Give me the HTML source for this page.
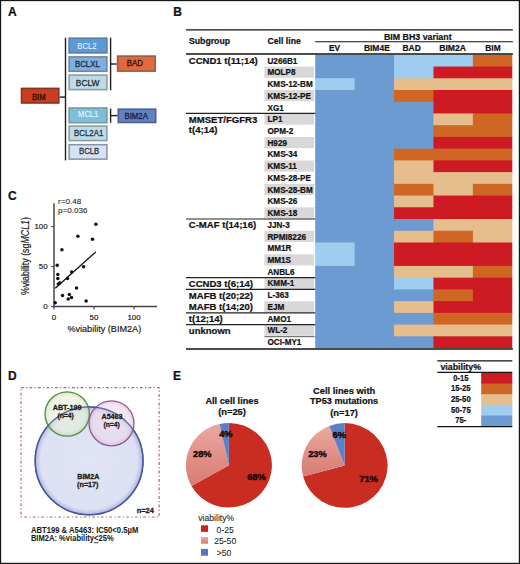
<!DOCTYPE html>
<html><head><meta charset="utf-8"><style>
html,body{margin:0;padding:0;background:#fff;}
body{width:520px;height:564px;overflow:hidden;position:relative;}
svg{position:absolute;left:0;top:0;font-family:"Liberation Sans", sans-serif;}
</style></head><body>
<svg width="520" height="564" viewBox="0 0 520 564">
<text x="7.9" y="15.8" font-size="12" font-weight="bold" text-anchor="start" fill="#111"  stroke="#111" stroke-width="0.22">A</text>
<text x="173.2" y="15.8" font-size="12" font-weight="bold" text-anchor="start" fill="#111"  stroke="#111" stroke-width="0.22">B</text>
<text x="8.0" y="200.4" font-size="12" font-weight="bold" text-anchor="start" fill="#111"  stroke="#111" stroke-width="0.22">C</text>
<text x="7.9" y="379.7" font-size="12" font-weight="bold" text-anchor="start" fill="#111"  stroke="#111" stroke-width="0.22">D</text>
<text x="173.0" y="379.9" font-size="12" font-weight="bold" text-anchor="start" fill="#111"  stroke="#111" stroke-width="0.22">E</text>
<rect x="69.1" y="38.2" width="37.8" height="14.7" fill="#5b9ad6" stroke="#5d7ea8" stroke-width="1.6" />
<text x="77.3" y="49.3" font-size="8.6" font-weight="normal" text-anchor="start" fill="#eef6ff"  textLength="19.3" lengthAdjust="spacingAndGlyphs" stroke="#eef6ff" stroke-width="0.05">BCL2</text>
<rect x="69.1" y="56.9" width="37.8" height="14.4" fill="#82ade0" stroke="#70869e" stroke-width="1.6" />
<text x="74.9" y="66.7" font-size="8.6" font-weight="normal" text-anchor="start" fill="#1a2e4c"  textLength="25.0" lengthAdjust="spacingAndGlyphs" stroke="#1a2e4c" stroke-width="0.3">BCLXL</text>
<rect x="69.1" y="75.1" width="37.8" height="14.5" fill="#bfdce6" stroke="#8a9ea8" stroke-width="1.6" />
<text x="75.8" y="85.6" font-size="8.6" font-weight="normal" text-anchor="start" fill="#1e2e36"  textLength="23.6" lengthAdjust="spacingAndGlyphs" stroke="#1e2e36" stroke-width="0.3">BCLW</text>
<rect x="69.1" y="108.0" width="37.8" height="14.7" fill="#7dbfd8" stroke="#7a98a8" stroke-width="1.6" />
<text x="78.1" y="117.2" font-size="8.6" font-weight="normal" text-anchor="start" fill="#f2fbff"  textLength="20.2" lengthAdjust="spacingAndGlyphs" stroke="#f2fbff" stroke-width="0.05">MCL1</text>
<rect x="69.1" y="126.1" width="37.8" height="14.5" fill="#bddcea" stroke="#8a9ea8" stroke-width="1.6" />
<text x="74.1" y="135.9" font-size="8.6" font-weight="normal" text-anchor="start" fill="#24343c"  textLength="29.2" lengthAdjust="spacingAndGlyphs" stroke="#24343c" stroke-width="0.3">BCL2A1</text>
<rect x="69.1" y="144.7" width="37.8" height="14.4" fill="#d6e2f4" stroke="#8a96a8" stroke-width="1.6" />
<text x="79.0" y="153.7" font-size="8.6" font-weight="normal" text-anchor="start" fill="#24343c"  textLength="20.3" lengthAdjust="spacingAndGlyphs" stroke="#24343c" stroke-width="0.3">BCLB</text>
<rect x="21.5" y="88.4" width="37.3" height="14.6" fill="#c93d20" stroke="#8a3420" stroke-width="1.6" />
<text x="31.9" y="99.7" font-size="8.6" font-weight="normal" text-anchor="start" fill="#380800"  textLength="13.8" lengthAdjust="spacingAndGlyphs" stroke="#380800" stroke-width="0.3">BIM</text>
<rect x="117.6" y="56.1" width="37.6" height="15.0" fill="#e0693d" stroke="#9a5a40" stroke-width="1.6" />
<text x="126.8" y="66.3" font-size="8.6" font-weight="normal" text-anchor="start" fill="#301008"  textLength="16.0" lengthAdjust="spacingAndGlyphs" stroke="#301008" stroke-width="0.3">BAD</text>
<rect x="118.3" y="109.2" width="37.4" height="13.3" fill="#6382c4" stroke="#4a5f8a" stroke-width="1.6" />
<text x="124.5" y="119.0" font-size="8.6" font-weight="normal" text-anchor="start" fill="#14204a"  textLength="23.4" lengthAdjust="spacingAndGlyphs" stroke="#14204a" stroke-width="0.3">BIM2A</text>
<line x1="65.5" y1="37.7" x2="65.5" y2="160.4" stroke="#1e1e1e" stroke-width="1.4" />
<line x1="110.6" y1="37.7" x2="110.6" y2="90.2" stroke="#1e1e1e" stroke-width="1.4" />
<line x1="110.6" y1="108.6" x2="110.6" y2="122.8" stroke="#1e1e1e" stroke-width="1.4" />
<line x1="59.6" y1="97.1" x2="65.5" y2="97.1" stroke="#1e1e1e" stroke-width="1.4" />
<line x1="110.6" y1="64" x2="116.7" y2="64" stroke="#1e1e1e" stroke-width="1.4" />
<line x1="110.6" y1="115.6" x2="117.5" y2="115.6" stroke="#1e1e1e" stroke-width="1.4" />
<text transform="translate(267.5,63.60) scale(0.9157,1)" font-size="8.9" font-weight="bold" fill="#111" stroke="#111" stroke-width="0.22">U266B1</text>
<rect x="315.2" y="54.8" width="79.64" height="12.53" fill="#6c9bd2" />
<rect x="394.04" y="54.8" width="79.64" height="12.53" fill="#9ecdf0" />
<rect x="472.88" y="54.8" width="39.42" height="12.53" fill="#d06623" />
<rect x="264.4" y="66.63" width="49.8" height="11.13" fill="#d8d8d8" />
<text transform="translate(267.5,75.33) scale(0.9157,1)" font-size="8.9" font-weight="bold" fill="#111" stroke="#111" stroke-width="0.22">MOLP8</text>
<rect x="315.2" y="66.53" width="79.64" height="12.53" fill="#6c9bd2" />
<rect x="394.04" y="66.53" width="40.22" height="12.53" fill="#9ecdf0" />
<rect x="433.46" y="66.53" width="78.84" height="12.53" fill="#cd1a23" />
<text transform="translate(267.5,87.06) scale(0.9157,1)" font-size="8.9" font-weight="bold" fill="#111" stroke="#111" stroke-width="0.22">KMS-12-BM</text>
<rect x="315.2" y="78.26" width="40.22" height="12.53" fill="#9ecdf0" />
<rect x="354.62" y="78.26" width="40.22" height="12.53" fill="#6c9bd2" />
<rect x="394.04" y="78.26" width="118.26" height="12.53" fill="#e6be8e" />
<rect x="264.4" y="90.09" width="49.8" height="11.13" fill="#d8d8d8" />
<text transform="translate(267.5,98.79) scale(0.9157,1)" font-size="8.9" font-weight="bold" fill="#111" stroke="#111" stroke-width="0.22">KMS-12-PE</text>
<rect x="315.2" y="89.99" width="79.64" height="12.53" fill="#6c9bd2" />
<rect x="394.04" y="89.99" width="40.22" height="12.53" fill="#d06623" />
<rect x="433.46" y="89.99" width="78.84" height="12.53" fill="#cd1a23" />
<text transform="translate(267.5,110.52) scale(0.9157,1)" font-size="8.9" font-weight="bold" fill="#111" stroke="#111" stroke-width="0.22">XG1</text>
<rect x="315.2" y="101.72" width="119.06" height="12.53" fill="#6c9bd2" />
<rect x="433.46" y="101.72" width="78.84" height="12.53" fill="#cd1a23" />
<rect x="264.4" y="113.55" width="49.8" height="11.13" fill="#d8d8d8" />
<text transform="translate(267.5,122.25) scale(0.9157,1)" font-size="8.9" font-weight="bold" fill="#111" stroke="#111" stroke-width="0.22">LP1</text>
<rect x="315.2" y="113.45" width="119.06" height="12.53" fill="#6c9bd2" />
<rect x="433.46" y="113.45" width="40.22" height="12.53" fill="#e6be8e" />
<rect x="472.88" y="113.45" width="39.42" height="12.53" fill="#d06623" />
<text transform="translate(267.5,133.98) scale(0.9157,1)" font-size="8.9" font-weight="bold" fill="#111" stroke="#111" stroke-width="0.22">OPM-2</text>
<rect x="315.2" y="125.18" width="119.06" height="12.53" fill="#6c9bd2" />
<rect x="433.46" y="125.18" width="78.84" height="12.53" fill="#d06623" />
<rect x="264.4" y="137.01" width="49.8" height="11.13" fill="#d8d8d8" />
<text transform="translate(267.5,145.71) scale(0.9157,1)" font-size="8.9" font-weight="bold" fill="#111" stroke="#111" stroke-width="0.22">H929</text>
<rect x="315.2" y="136.91" width="119.06" height="12.53" fill="#6c9bd2" />
<rect x="433.46" y="136.91" width="78.84" height="12.53" fill="#cd1a23" />
<text transform="translate(267.5,157.44) scale(0.9157,1)" font-size="8.9" font-weight="bold" fill="#111" stroke="#111" stroke-width="0.22">KMS-34</text>
<rect x="315.2" y="148.64" width="79.64" height="12.53" fill="#6c9bd2" />
<rect x="394.04" y="148.64" width="118.26" height="12.53" fill="#d06623" />
<rect x="264.4" y="160.47" width="49.8" height="11.13" fill="#d8d8d8" />
<text transform="translate(267.5,169.17) scale(0.9157,1)" font-size="8.9" font-weight="bold" fill="#111" stroke="#111" stroke-width="0.22">KMS-11</text>
<rect x="315.2" y="160.37" width="79.64" height="12.53" fill="#6c9bd2" />
<rect x="394.04" y="160.37" width="40.22" height="12.53" fill="#e6be8e" />
<rect x="433.46" y="160.37" width="78.84" height="12.53" fill="#cd1a23" />
<text transform="translate(267.5,180.90) scale(0.9157,1)" font-size="8.9" font-weight="bold" fill="#111" stroke="#111" stroke-width="0.22">KMS-28-PE</text>
<rect x="315.2" y="172.1" width="79.64" height="12.53" fill="#6c9bd2" />
<rect x="394.04" y="172.1" width="118.26" height="12.53" fill="#e6be8e" />
<rect x="264.4" y="183.93" width="49.8" height="11.13" fill="#d8d8d8" />
<text transform="translate(267.5,192.63) scale(0.9157,1)" font-size="8.9" font-weight="bold" fill="#111" stroke="#111" stroke-width="0.22">KMS-28-BM</text>
<rect x="315.2" y="183.83" width="79.64" height="12.53" fill="#6c9bd2" />
<rect x="394.04" y="183.83" width="40.22" height="12.53" fill="#d06623" />
<rect x="433.46" y="183.83" width="40.22" height="12.53" fill="#e6be8e" />
<rect x="472.88" y="183.83" width="39.42" height="12.53" fill="#d06623" />
<text transform="translate(267.5,204.36) scale(0.9157,1)" font-size="8.9" font-weight="bold" fill="#111" stroke="#111" stroke-width="0.22">KMS-26</text>
<rect x="315.2" y="195.56" width="79.64" height="12.53" fill="#6c9bd2" />
<rect x="394.04" y="195.56" width="40.22" height="12.53" fill="#e6be8e" />
<rect x="433.46" y="195.56" width="78.84" height="12.53" fill="#cd1a23" />
<rect x="264.4" y="207.39" width="49.8" height="11.13" fill="#d8d8d8" />
<text transform="translate(267.5,216.09) scale(0.9157,1)" font-size="8.9" font-weight="bold" fill="#111" stroke="#111" stroke-width="0.22">KMS-18</text>
<rect x="315.2" y="207.29" width="79.64" height="12.53" fill="#6c9bd2" />
<rect x="394.04" y="207.29" width="118.26" height="12.53" fill="#cd1a23" />
<text transform="translate(267.5,227.82) scale(0.9157,1)" font-size="8.9" font-weight="bold" fill="#111" stroke="#111" stroke-width="0.22">JJN-3</text>
<rect x="315.2" y="219.02" width="119.06" height="12.53" fill="#6c9bd2" />
<rect x="433.46" y="219.02" width="78.84" height="12.53" fill="#e6be8e" />
<rect x="264.4" y="230.85" width="49.8" height="11.13" fill="#d8d8d8" />
<text transform="translate(267.5,239.55) scale(0.9157,1)" font-size="8.9" font-weight="bold" fill="#111" stroke="#111" stroke-width="0.22">RPMI8226</text>
<rect x="315.2" y="230.75" width="79.64" height="12.53" fill="#6c9bd2" />
<rect x="394.04" y="230.75" width="40.22" height="12.53" fill="#e6be8e" />
<rect x="433.46" y="230.75" width="40.22" height="12.53" fill="#d06623" />
<rect x="472.88" y="230.75" width="39.42" height="12.53" fill="#e6be8e" />
<text transform="translate(267.5,251.28) scale(0.9157,1)" font-size="8.9" font-weight="bold" fill="#111" stroke="#111" stroke-width="0.22">MM1R</text>
<rect x="315.2" y="242.48" width="40.22" height="12.53" fill="#9ecdf0" />
<rect x="354.62" y="242.48" width="40.22" height="12.53" fill="#6c9bd2" />
<rect x="394.04" y="242.48" width="118.26" height="12.53" fill="#cd1a23" />
<rect x="264.4" y="254.31" width="49.8" height="11.13" fill="#d8d8d8" />
<text transform="translate(267.5,263.01) scale(0.9157,1)" font-size="8.9" font-weight="bold" fill="#111" stroke="#111" stroke-width="0.22">MM1S</text>
<rect x="315.2" y="254.21" width="40.22" height="12.53" fill="#9ecdf0" />
<rect x="354.62" y="254.21" width="40.22" height="12.53" fill="#6c9bd2" />
<rect x="394.04" y="254.21" width="118.26" height="12.53" fill="#cd1a23" />
<text transform="translate(267.5,274.74) scale(0.9157,1)" font-size="8.9" font-weight="bold" fill="#111" stroke="#111" stroke-width="0.22">ANBL6</text>
<rect x="315.2" y="265.94" width="79.64" height="12.53" fill="#6c9bd2" />
<rect x="394.04" y="265.94" width="79.64" height="12.53" fill="#e6be8e" />
<rect x="472.88" y="265.94" width="39.42" height="12.53" fill="#d06623" />
<rect x="264.4" y="277.77" width="49.8" height="11.13" fill="#d8d8d8" />
<text transform="translate(267.5,286.47) scale(0.9157,1)" font-size="8.9" font-weight="bold" fill="#111" stroke="#111" stroke-width="0.22">KMM-1</text>
<rect x="315.2" y="277.67" width="79.64" height="12.53" fill="#6c9bd2" />
<rect x="394.04" y="277.67" width="40.22" height="12.53" fill="#9ecdf0" />
<rect x="433.46" y="277.67" width="78.84" height="12.53" fill="#cd1a23" />
<text transform="translate(267.5,298.20) scale(0.9157,1)" font-size="8.9" font-weight="bold" fill="#111" stroke="#111" stroke-width="0.22">L-363</text>
<rect x="315.2" y="289.4" width="119.06" height="12.53" fill="#6c9bd2" />
<rect x="433.46" y="289.4" width="40.22" height="12.53" fill="#d06623" />
<rect x="472.88" y="289.4" width="39.42" height="12.53" fill="#cd1a23" />
<rect x="264.4" y="301.23" width="49.8" height="11.13" fill="#d8d8d8" />
<text transform="translate(267.5,309.93) scale(0.9157,1)" font-size="8.9" font-weight="bold" fill="#111" stroke="#111" stroke-width="0.22">EJM</text>
<rect x="315.2" y="301.13" width="79.64" height="12.53" fill="#6c9bd2" />
<rect x="394.04" y="301.13" width="40.22" height="12.53" fill="#e6be8e" />
<rect x="433.46" y="301.13" width="78.84" height="12.53" fill="#cd1a23" />
<text transform="translate(267.5,321.66) scale(0.9157,1)" font-size="8.9" font-weight="bold" fill="#111" stroke="#111" stroke-width="0.22">AMO1</text>
<rect x="315.2" y="312.86" width="119.06" height="12.53" fill="#6c9bd2" />
<rect x="433.46" y="312.86" width="78.84" height="12.53" fill="#d06623" />
<rect x="264.4" y="324.69" width="49.8" height="11.13" fill="#d8d8d8" />
<text transform="translate(267.5,333.39) scale(0.9157,1)" font-size="8.9" font-weight="bold" fill="#111" stroke="#111" stroke-width="0.22">WL-2</text>
<rect x="315.2" y="324.59" width="79.64" height="12.53" fill="#6c9bd2" />
<rect x="394.04" y="324.59" width="118.26" height="12.53" fill="#e6be8e" />
<text transform="translate(267.5,345.12) scale(0.9157,1)" font-size="8.9" font-weight="bold" fill="#111" stroke="#111" stroke-width="0.22">OCI-MY1</text>
<rect x="315.2" y="336.32" width="119.06" height="11.73" fill="#6c9bd2" />
<rect x="433.46" y="336.32" width="78.84" height="11.73" fill="#cd1a23" />
<line x1="186" y1="29.9" x2="512.9" y2="29.9" stroke="#111" stroke-width="1.3" />
<line x1="315.2" y1="41.7" x2="512.9" y2="41.7" stroke="#111" stroke-width="1.1" />
<line x1="186" y1="54.1" x2="512.9" y2="54.1" stroke="#111" stroke-width="1.5" />
<line x1="186" y1="348.9" x2="512.9" y2="348.9" stroke="#111" stroke-width="1.5" />
<line x1="264.4" y1="336.7" x2="314.6" y2="336.7" stroke="#444" stroke-width="0.9" />
<line x1="186" y1="113.45" x2="315.2" y2="113.45" stroke="#222" stroke-width="1.2" />
<line x1="186" y1="219.02" x2="315.2" y2="219.02" stroke="#222" stroke-width="1.2" />
<line x1="186" y1="277.67" x2="315.2" y2="277.67" stroke="#222" stroke-width="1.2" />
<line x1="186" y1="289.4" x2="315.2" y2="289.4" stroke="#222" stroke-width="1.2" />
<line x1="186" y1="312.86" x2="315.2" y2="312.86" stroke="#222" stroke-width="1.2" />
<line x1="186" y1="324.59" x2="315.2" y2="324.59" stroke="#222" stroke-width="1.2" />
<text x="189" y="44.2" font-size="9.2" font-weight="bold" text-anchor="start" fill="#111"  textLength="41.0" lengthAdjust="spacingAndGlyphs" stroke="#111" stroke-width="0.22">Subgroup</text>
<text x="267.5" y="44.2" font-size="9.2" font-weight="bold" text-anchor="start" fill="#111"  textLength="33.3" lengthAdjust="spacingAndGlyphs" stroke="#111" stroke-width="0.22">Cell line</text>
<text x="384.0" y="39.5" font-size="9.1" font-weight="bold" text-anchor="start" fill="#111"  textLength="67.6" lengthAdjust="spacingAndGlyphs" stroke="#111" stroke-width="0.22">BIM BH3 variant</text>
<text x="328.9" y="51.1" font-size="9.0" font-weight="bold" text-anchor="start" fill="#111"  textLength="11.1" lengthAdjust="spacingAndGlyphs" stroke="#111" stroke-width="0.22">EV</text>
<text x="363.9" y="51.1" font-size="9.0" font-weight="bold" text-anchor="start" fill="#111"  textLength="25.9" lengthAdjust="spacingAndGlyphs" stroke="#111" stroke-width="0.22">BIM4E</text>
<text x="402.4" y="51.1" font-size="9.0" font-weight="bold" text-anchor="start" fill="#111"  textLength="18.4" lengthAdjust="spacingAndGlyphs" stroke="#111" stroke-width="0.22">BAD</text>
<text x="439.2" y="51.1" font-size="9.0" font-weight="bold" text-anchor="start" fill="#111"  textLength="26.8" lengthAdjust="spacingAndGlyphs" stroke="#111" stroke-width="0.22">BIM2A</text>
<text x="485.3" y="51.1" font-size="9.0" font-weight="bold" text-anchor="start" fill="#111"  textLength="15.3" lengthAdjust="spacingAndGlyphs" stroke="#111" stroke-width="0.22">BIM</text>
<text x="188.8" y="64.1" font-size="9.55" font-weight="bold" text-anchor="start" fill="#111"  stroke="#111" stroke-width="0.22">CCND1 t(11;14)</text>
<text x="188.8" y="122.75" font-size="9.55" font-weight="bold" text-anchor="start" fill="#111"  stroke="#111" stroke-width="0.22">MMSET/FGFR3</text>
<text x="188.8" y="133.48" font-size="9.55" font-weight="bold" text-anchor="start" fill="#111"  stroke="#111" stroke-width="0.22">t(4;14)</text>
<text x="188.8" y="228.32" font-size="9.55" font-weight="bold" text-anchor="start" fill="#111"  stroke="#111" stroke-width="0.22">C-MAF t(14;16)</text>
<text x="188.8" y="286.97" font-size="9.55" font-weight="bold" text-anchor="start" fill="#111"  stroke="#111" stroke-width="0.22">CCND3 t(6;14)</text>
<text x="188.8" y="298.7" font-size="9.55" font-weight="bold" text-anchor="start" fill="#111"  stroke="#111" stroke-width="0.22">MAFB t(20;22)</text>
<text x="188.8" y="310.43" font-size="9.55" font-weight="bold" text-anchor="start" fill="#111"  stroke="#111" stroke-width="0.22">MAFB t(14;20)</text>
<text x="188.8" y="322.16" font-size="9.55" font-weight="bold" text-anchor="start" fill="#111"  stroke="#111" stroke-width="0.22">t(12;14)</text>
<text x="188.8" y="333.89" font-size="9.55" font-weight="bold" text-anchor="start" fill="#111"  stroke="#111" stroke-width="0.22">unknown</text>
<line x1="437.3" y1="360.8" x2="512.3" y2="360.8" stroke="#111" stroke-width="1.3" />
<text x="440.4" y="369.5" font-size="9.4" font-weight="bold" text-anchor="start" fill="#111"  textLength="40.6" lengthAdjust="spacingAndGlyphs" stroke="#111" stroke-width="0.22">viability%</text>
<line x1="437.3" y1="372.3" x2="512.3" y2="372.3" stroke="#111" stroke-width="1.3" />
<rect x="481.2" y="372.9" width="31.1" height="11.25" fill="#cd1a23" />
<text x="460.8" y="380.8" font-size="8.8" font-weight="bold" text-anchor="middle" fill="#111"  textLength="15.2" lengthAdjust="spacingAndGlyphs" stroke="#111" stroke-width="0.22">0-15</text>
<rect x="481.2" y="383.55" width="31.1" height="11.25" fill="#d06623" />
<text x="460.8" y="391.45" font-size="8.8" font-weight="bold" text-anchor="middle" fill="#111"  textLength="19.4" lengthAdjust="spacingAndGlyphs" stroke="#111" stroke-width="0.22">15-25</text>
<rect x="481.2" y="394.2" width="31.1" height="11.25" fill="#e6be8e" />
<text x="460.8" y="402.1" font-size="8.8" font-weight="bold" text-anchor="middle" fill="#111"  textLength="19.8" lengthAdjust="spacingAndGlyphs" stroke="#111" stroke-width="0.22">25-50</text>
<rect x="481.2" y="404.85" width="31.1" height="11.25" fill="#9ecdf0" />
<text x="460.8" y="412.75" font-size="8.8" font-weight="bold" text-anchor="middle" fill="#111"  textLength="19.8" lengthAdjust="spacingAndGlyphs" stroke="#111" stroke-width="0.22">50-75</text>
<rect x="481.2" y="415.5" width="31.1" height="10.7" fill="#6c9bd2" />
<text x="460.8" y="423.4" font-size="8.8" font-weight="bold" text-anchor="middle" fill="#111"  textLength="11.0" lengthAdjust="spacingAndGlyphs" stroke="#111" stroke-width="0.22">75-</text>
<line x1="437.3" y1="426.6" x2="512.3" y2="426.6" stroke="#111" stroke-width="1.3" />
<line x1="54" y1="203.2" x2="54" y2="307.2" stroke="#444" stroke-width="1.5" />
<line x1="53.3" y1="306.6" x2="157" y2="306.6" stroke="#444" stroke-width="1.5" />
<line x1="51.2" y1="306.6" x2="54" y2="306.6" stroke="#444" stroke-width="1.1" />
<text x="47.6" y="309.3" font-size="7.9" font-weight="normal" text-anchor="end" fill="#111"  stroke="#111" stroke-width="0.15">0</text>
<line x1="51.2" y1="266.6" x2="54" y2="266.6" stroke="#444" stroke-width="1.1" />
<text x="47.6" y="269.3" font-size="7.9" font-weight="normal" text-anchor="end" fill="#111"  stroke="#111" stroke-width="0.15">50</text>
<line x1="51.2" y1="226.60000000000002" x2="54" y2="226.60000000000002" stroke="#444" stroke-width="1.1" />
<text x="47.6" y="229.3" font-size="7.9" font-weight="normal" text-anchor="end" fill="#111"  stroke="#111" stroke-width="0.15">100</text>
<line x1="54.0" y1="306.6" x2="54.0" y2="309.4" stroke="#444" stroke-width="1.1" />
<text x="54.0" y="319.9" font-size="7.9" font-weight="normal" text-anchor="middle" fill="#111"  stroke="#111" stroke-width="0.15">0</text>
<line x1="94.0" y1="306.6" x2="94.0" y2="309.4" stroke="#444" stroke-width="1.1" />
<text x="94.0" y="319.9" font-size="7.9" font-weight="normal" text-anchor="middle" fill="#111"  stroke="#111" stroke-width="0.15">50</text>
<line x1="134.0" y1="306.6" x2="134.0" y2="309.4" stroke="#444" stroke-width="1.1" />
<text x="134.0" y="319.9" font-size="7.9" font-weight="normal" text-anchor="middle" fill="#111"  stroke="#111" stroke-width="0.15">100</text>
<text x="67.4" y="332.4" font-size="9.6" font-weight="normal" text-anchor="start" fill="#111"  textLength="73.8" lengthAdjust="spacingAndGlyphs" stroke="#111" stroke-width="0.15">%viability (BIM2A)</text>
<text x="0" y="0" font-size="10.4" fill="#111" stroke="#111" stroke-width="0.15" text-anchor="middle" transform="translate(29.0,256.1) rotate(-90) scale(0.85,1)">%viability (sg<tspan font-style="italic">MCL1</tspan>)</text>
<text x="58" y="203.7" font-size="8.1" font-weight="normal" text-anchor="start" fill="#222"  stroke="#222" stroke-width="0.08">r=0.48</text>
<text x="58" y="212.9" font-size="8.1" font-weight="normal" text-anchor="start" fill="#222"  stroke="#222" stroke-width="0.08">p=0.036</text>
<circle cx="95.9" cy="224.2" r="1.75" fill="#111"/>
<circle cx="77.9" cy="236.3" r="1.75" fill="#111"/>
<circle cx="92.5" cy="239.2" r="1.75" fill="#111"/>
<circle cx="61.9" cy="249.8" r="1.75" fill="#111"/>
<circle cx="57.2" cy="265.2" r="1.75" fill="#111"/>
<circle cx="83.6" cy="266.8" r="1.75" fill="#111"/>
<circle cx="71.6" cy="272.1" r="1.75" fill="#111"/>
<circle cx="57.8" cy="274.6" r="1.75" fill="#111"/>
<circle cx="57.8" cy="278.5" r="1.75" fill="#111"/>
<circle cx="67.5" cy="278.5" r="1.75" fill="#111"/>
<circle cx="58.3" cy="284" r="1.75" fill="#111"/>
<circle cx="59.8" cy="283.1" r="1.75" fill="#111"/>
<circle cx="76.5" cy="287.9" r="1.75" fill="#111"/>
<circle cx="62.5" cy="295.5" r="1.75" fill="#111"/>
<circle cx="69.3" cy="294.4" r="1.75" fill="#111"/>
<circle cx="68.2" cy="299" r="1.75" fill="#111"/>
<circle cx="71.5" cy="297.5" r="1.75" fill="#111"/>
<circle cx="86.1" cy="301" r="1.75" fill="#111"/>
<circle cx="55.2" cy="302.7" r="1.75" fill="#111"/>
<line x1="55.2" y1="288.3" x2="95.8" y2="251.9" stroke="#111" stroke-width="1.3" />
<defs>
<radialGradient id="gb" cx="0.5" cy="0.5" r="0.5"><stop offset="0" stop-color="#e0e4f4"/><stop offset="0.9" stop-color="#dce1f3"/><stop offset="0.97" stop-color="#bcc3e6"/><stop offset="1" stop-color="#8a94c8"/></radialGradient>
<radialGradient id="gg" cx="0.5" cy="0.5" r="0.5"><stop offset="0" stop-color="#e8f2de"/><stop offset="0.8" stop-color="#e2eed6"/><stop offset="0.94" stop-color="#c6dcb4"/><stop offset="1" stop-color="#8ab474"/></radialGradient>
<radialGradient id="gp" cx="0.5" cy="0.5" r="0.5"><stop offset="0" stop-color="#f2e0f0"/><stop offset="0.8" stop-color="#eed8ec"/><stop offset="0.94" stop-color="#dcbcd8"/><stop offset="1" stop-color="#b88ab4"/></radialGradient>
</defs>
<rect x="21.0" y="387.7" width="138.1" height="129.3" fill="none" stroke="#a86a60" stroke-width="1.2" stroke-dasharray="2.8,2.2,1.2,2.3"/>
<circle cx="89.1" cy="460.8" r="54.0" fill="url(#gb)" stroke="#46559a" stroke-width="1.3"/>
<circle cx="67.2" cy="414.0" r="22.2" fill="url(#gg)" fill-opacity="0.6" stroke="#5a8c46" stroke-width="1.3"/>
<circle cx="111.5" cy="423.3" r="22.5" fill="url(#gp)" fill-opacity="0.6" stroke="#8e5e90" stroke-width="1.3"/>
<circle cx="89.1" cy="460.8" r="54.0" fill="none" stroke="#46559a" stroke-width="1.3" stroke-opacity="0.75"/>
<text x="67.1" y="410.2" font-size="7.7" font-weight="bold" text-anchor="middle" fill="#1a1a1a"  textLength="28.8" lengthAdjust="spacingAndGlyphs" stroke="#1a1a1a" stroke-width="0.3">ABT-199</text>
<text x="65.6" y="418.3" font-size="7.7" font-weight="bold" text-anchor="middle" fill="#1a1a1a"  textLength="16.4" lengthAdjust="spacingAndGlyphs" stroke="#1a1a1a" stroke-width="0.3">(n=4)</text>
<text x="112.0" y="418.5" font-size="7.7" font-weight="bold" text-anchor="middle" fill="#1a1a1a"  textLength="21.0" lengthAdjust="spacingAndGlyphs" stroke="#1a1a1a" stroke-width="0.3">A5463</text>
<text x="111.6" y="427.0" font-size="7.7" font-weight="bold" text-anchor="middle" fill="#1a1a1a"  textLength="16.4" lengthAdjust="spacingAndGlyphs" stroke="#1a1a1a" stroke-width="0.3">(n=4)</text>
<text x="88.3" y="478.5" font-size="7.7" font-weight="bold" text-anchor="middle" fill="#1a1a1a"  textLength="22.0" lengthAdjust="spacingAndGlyphs" stroke="#1a1a1a" stroke-width="0.3">BIM2A</text>
<text x="87.8" y="487.0" font-size="7.7" font-weight="bold" text-anchor="middle" fill="#1a1a1a"  textLength="21.4" lengthAdjust="spacingAndGlyphs" stroke="#1a1a1a" stroke-width="0.3">(n=17)</text>
<text x="145.3" y="512.6" font-size="7.7" font-weight="bold" text-anchor="middle" fill="#1a1a1a"  textLength="17.2" lengthAdjust="spacingAndGlyphs" stroke="#1a1a1a" stroke-width="0.3">n=24</text>
<text x="30.9" y="532.7" font-size="8.2" font-weight="bold" text-anchor="start" fill="#1a1a1a"  textLength="107.4" lengthAdjust="spacingAndGlyphs" stroke="#1a1a1a" stroke-width="0.05">ABT199 &amp; A5463: IC50&lt;0.5µM</text>
<text x="30.9" y="541.3" font-size="8.2" font-weight="bold" text-anchor="start" fill="#1a1a1a"  textLength="82.8" lengthAdjust="spacingAndGlyphs" stroke="#1a1a1a" stroke-width="0.05">BIM2A: %viability<tspan text-decoration="underline">&lt;</tspan>25%</text>
<defs><linearGradient id="pk" x1="0" y1="0" x2="0" y2="1"><stop offset="0" stop-color="#eaa8a0"/><stop offset="1" stop-color="#d77c72"/></linearGradient></defs>
<path d="M228.9,465.3 L228.90,423.05 A43.0,42.25 0 1 1 191.48,486.12 Z" fill="#c92c20"/>
<path d="M228.9,465.3 L191.48,486.12 A43.0,42.25 0 0 1 219.52,424.07 Z" fill="url(#pk)"/>
<path d="M228.9,465.3 L219.52,424.07 A43.0,42.25 0 0 1 228.90,423.05 Z" fill="#5b80c8"/>
<path d="M344.6,465.45 L344.60,423.10 A43.0,42.35 0 1 1 303.09,476.50 Z" fill="#c92c20"/>
<path d="M344.6,465.45 L303.09,476.50 A43.0,42.35 0 0 1 329.27,425.88 Z" fill="url(#pk)"/>
<path d="M344.6,465.45 L329.27,425.88 A43.0,42.35 0 0 1 344.60,423.10 Z" fill="#5b80c8"/>
<text x="232" y="403.5" font-size="9.3" font-weight="bold" text-anchor="middle" fill="#111"  textLength="53.2" lengthAdjust="spacingAndGlyphs" stroke="#111" stroke-width="0.22">All cell lines</text>
<text x="232" y="415.0" font-size="9.3" font-weight="bold" text-anchor="middle" fill="#111"  stroke="#111" stroke-width="0.22">(n=25)</text>
<text x="344.1" y="393.8" font-size="9.3" font-weight="bold" text-anchor="middle" fill="#111"  textLength="62.2" lengthAdjust="spacingAndGlyphs" stroke="#111" stroke-width="0.22">Cell lines with</text>
<text x="344.1" y="404.2" font-size="9.3" font-weight="bold" text-anchor="middle" fill="#111"  textLength="68.2" lengthAdjust="spacingAndGlyphs" stroke="#111" stroke-width="0.22">TP53 mutations</text>
<text x="344.1" y="415.6" font-size="9.3" font-weight="bold" text-anchor="middle" fill="#111"  stroke="#111" stroke-width="0.22">(n=17)</text>
<text x="225.9" y="436.8" font-size="9.3" font-weight="bold" text-anchor="middle" fill="#1a0505"  stroke="#1a0505" stroke-width="0.4">4%</text>
<text x="202.3" y="456.9" font-size="9.3" font-weight="bold" text-anchor="middle" fill="#1a0505"  stroke="#1a0505" stroke-width="0.4">28%</text>
<text x="256.5" y="480" font-size="9.3" font-weight="bold" text-anchor="middle" fill="#1a0505"  stroke="#1a0505" stroke-width="0.4">68%</text>
<text x="339.3" y="437.6" font-size="9.3" font-weight="bold" text-anchor="middle" fill="#1a0505"  stroke="#1a0505" stroke-width="0.4">6%</text>
<text x="317.5" y="456.9" font-size="9.3" font-weight="bold" text-anchor="middle" fill="#1a0505"  stroke="#1a0505" stroke-width="0.4">23%</text>
<text x="368.6" y="482.2" font-size="9.3" font-weight="bold" text-anchor="middle" fill="#1a0505"  stroke="#1a0505" stroke-width="0.4">71%</text>
<text x="198.3" y="521" font-size="8.6" font-weight="normal" text-anchor="start" fill="#222"  stroke="#222" stroke-width="0.08">viability%</text>
<rect x="201.0" y="525.3" width="7.0" height="6.6" fill="#c4261c" />
<rect x="201.0" y="537.1" width="7.0" height="6.6" fill="url(#pk)" />
<rect x="201.0" y="548.9" width="7.0" height="6.8" fill="#5276c2" />
<text x="225.2" y="532.8" font-size="8.6" font-weight="normal" text-anchor="middle" fill="#222"  stroke="#222" stroke-width="0.08">0-25</text>
<text x="225.2" y="544.2" font-size="8.6" font-weight="normal" text-anchor="middle" fill="#222"  stroke="#222" stroke-width="0.08">25-50</text>
<text x="224.0" y="555.6" font-size="8.6" font-weight="normal" text-anchor="middle" fill="#222"  stroke="#222" stroke-width="0.08">&gt;50</text>
<rect x="0" y="0" width="520" height="1.15" fill="#161616" />
<rect x="0" y="0" width="1.15" height="564" fill="#161616" />
<rect x="518.8" y="0" width="1.2" height="564" fill="#161616" />
<rect x="0" y="562.8" width="520" height="1.2" fill="#161616" />
</svg>
</body></html>
